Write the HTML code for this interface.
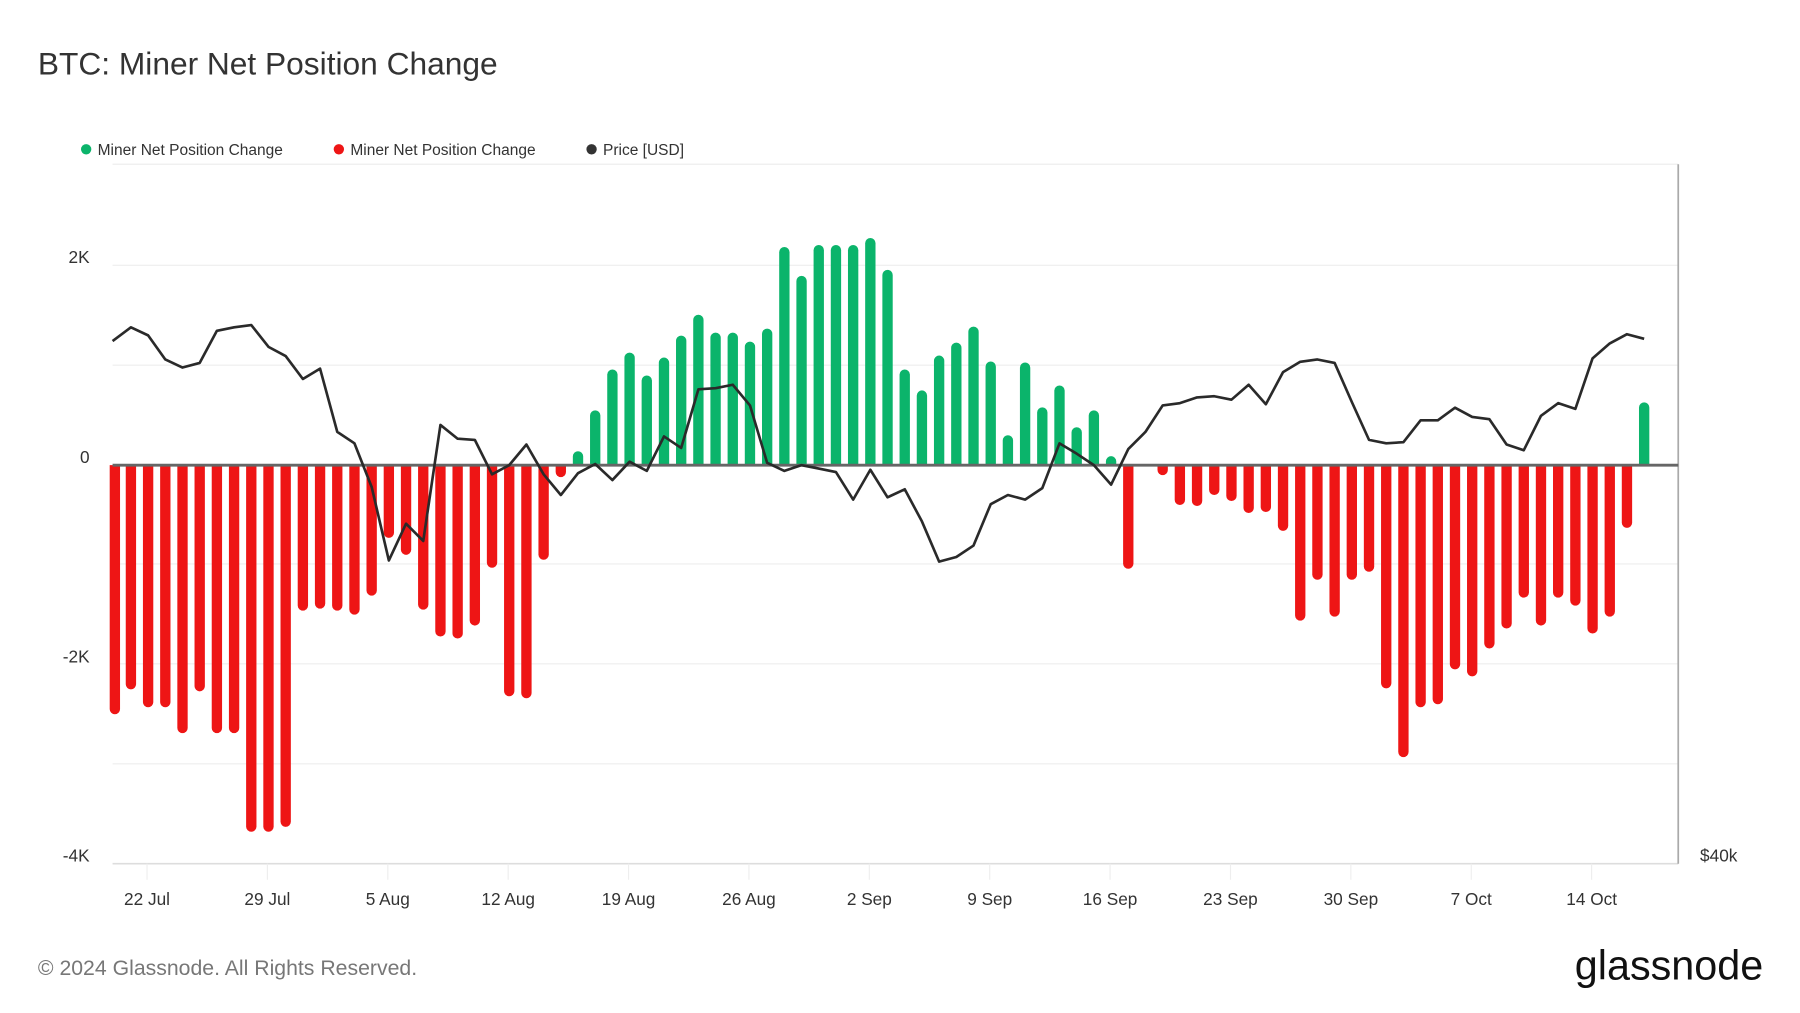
<!DOCTYPE html>
<html><head><meta charset="utf-8"><style>
html,body{margin:0;padding:0;background:#fff;}
svg{display:block;font-family:"Liberation Sans",sans-serif;}
</style></head><body>
<svg id="s" width="1800" height="1013" viewBox="0 0 1567 882" preserveAspectRatio="none" xmlns="http://www.w3.org/2000/svg">
<rect width="1567" height="882" fill="#fff"/>
<text x="33" y="65" font-size="27.6" fill="#333">BTC: Miner Net Position Change</text>
<circle cx="75" cy="130" r="4.5" fill="#0bb46b"/><text x="85" y="135" font-size="13.5" fill="#333">Miner Net Position Change</text>
<circle cx="295" cy="130" r="4.5" fill="#ee1515"/><text x="305" y="135" font-size="13.5" fill="#333">Miner Net Position Change</text>
<circle cx="515" cy="130" r="4.5" fill="#333"/><text x="525" y="135" font-size="13.5" fill="#333">Price [USD]</text>
<g stroke="#eee" stroke-width="1">
<line x1="98" y1="143" x2="1461" y2="143"/>
<line x1="98" y1="231" x2="1461" y2="231"/>
<line x1="98" y1="318" x2="1461" y2="318"/>
<line x1="98" y1="491" x2="1461" y2="491"/>
<line x1="98" y1="578" x2="1461" y2="578"/>
<line x1="98" y1="665" x2="1461" y2="665"/>
</g>
<line x1="98" y1="752" x2="1461" y2="752" stroke="#ddd" stroke-width="1.5"/>
<line x1="1461" y1="143" x2="1461" y2="752" stroke="#aaa" stroke-width="1.5"/>
<g font-size="15" fill="#333" text-anchor="end">
<text x="78" y="229">2K</text><text x="78" y="403">0</text><text x="78" y="577">-2K</text><text x="78" y="750">-4K</text>
</g>
<text x="1480" y="750" font-size="15" fill="#333">$40k</text>
<g id="xt" font-size="15" fill="#333" text-anchor="middle"></g>
<g id="bars"></g>
<line x1="98" y1="405" x2="1461" y2="405" stroke="#666" stroke-width="2.5"/>
<polyline id="pl" fill="none" stroke="#2a2a2a" stroke-width="2.3" stroke-linejoin="round"/>
<text x="33" y="849" font-size="18.5" fill="#777">© 2024 Glassnode. All Rights Reserved.</text>
<text x="1535" y="853" font-size="36" fill="#111" text-anchor="end" letter-spacing="0">glassnode</text>
</svg>
<script>
var v=[-2.5,-2.25,-2.43,-2.43,-2.69,-2.27,-2.69,-2.69,-3.68,-3.68,-3.63,-1.46,-1.44,-1.46,-1.5,-1.31,-0.73,-0.9,-1.45,-1.72,-1.74,-1.61,-1.03,-2.32,-2.34,-0.95,-0.12,0.14,0.55,0.96,1.13,0.9,1.08,1.3,1.51,1.33,1.33,1.24,1.37,2.19,1.9,2.21,2.21,2.21,2.28,1.96,0.96,0.75,1.1,1.23,1.39,1.04,0.3,1.03,0.58,0.8,0.38,0.55,0.09,-1.04,0.01,-0.1,-0.4,-0.41,-0.3,-0.36,-0.48,-0.47,-0.66,-1.56,-1.15,-1.52,-1.15,-1.07,-2.24,-2.93,-2.43,-2.4,-2.05,-2.12,-1.84,-1.64,-1.33,-1.61,-1.33,-1.41,-1.69,-1.52,-0.63,0.63];
var p=[297,285,292,313,320,316,288,285,283,302,310,330,321,376,386,424,488,456,471,370,382,383,413,405,387,413,431,412,404,418,402,410,380,390,339,338,335,353,403,410,405,408,411,435,409,433,426,454,489,485,475,439,431,435,425,386,395,405,422,391,376,353,351,346,345,348,335,352,324,315,313,316,350,383,386,385,366,366,355,363,365,387,392,362,351,356,312,299,291,295];
var ns="http://www.w3.org/2000/svg";
function X(i){return 98+i*14.97+1;}
var g=document.getElementById('bars');
for(var i=0;i<v.length;i++){
 var y=405-v[i]*86.75; var x=X(i); if(i==0)x=100;
 var r=document.createElementNS(ns,'path');
 var w=4.5; var up=v[i]>0;
 var h=Math.abs(405-y);
 var d;
 if(h<w){d='M'+(x-w)+' 405 h'+(2*w)+' v'+(up?-h:h)+' h'+(-2*w)+'Z';}
 else if(up){d='M'+(x-w)+' 405 V'+(y+w)+' A'+w+' '+w+' 0 0 1 '+(x+w)+' '+(y+w)+' V405Z';}
 else{d='M'+(x-w)+' 405 V'+(y-w)+' A'+w+' '+w+' 0 0 0 '+(x+w)+' '+(y-w)+' V405Z';}
 r.setAttribute('d',d);r.setAttribute('fill',up?'#0bb46b':'#ee1515');g.appendChild(r);
}
var pts=[];for(var i=0;i<p.length;i++){pts.push((i==0?98:X(i))+','+p[i]);}
document.getElementById('pl').setAttribute('points',pts.join(' '));
var lab=['22 Jul','29 Jul','5 Aug','12 Aug','19 Aug','26 Aug','2 Sep','9 Sep','16 Sep','23 Sep','30 Sep','7 Oct','14 Oct'];
var xt=document.getElementById('xt');
for(var k=0;k<lab.length;k++){
 var x=128+k*104.8;
 var t=document.createElementNS(ns,'text');t.setAttribute('x',x);t.setAttribute('y',788);t.textContent=lab[k];xt.appendChild(t);
 var l=document.createElementNS(ns,'line');l.setAttribute('x1',x);l.setAttribute('x2',x);l.setAttribute('y1',752);l.setAttribute('y2',766);l.setAttribute('stroke','#eee');xt.appendChild(l);
}
</script>
</body></html>
